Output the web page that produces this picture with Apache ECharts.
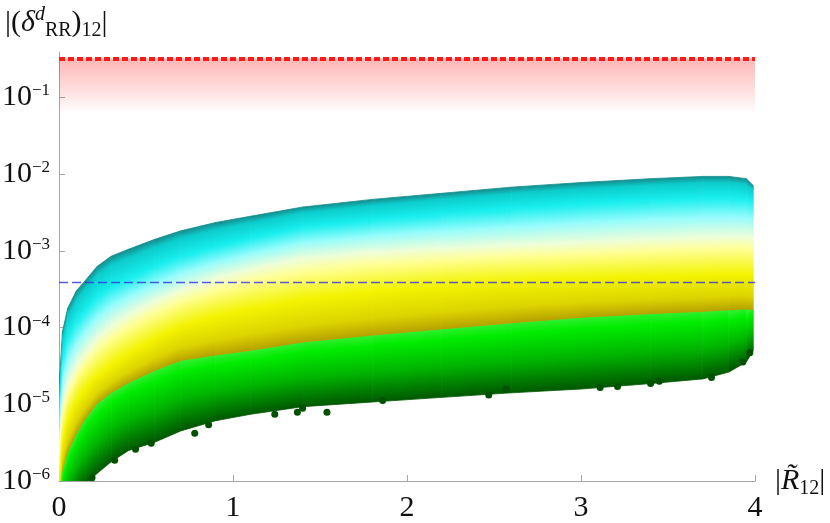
<!DOCTYPE html>
<html>
<head>
<meta charset="utf-8">
<script src="https://cdn.jsdelivr.net/npm/echarts@6/dist/echarts.min.js"></script>
<style>
  html, body { margin: 0; padding: 0; background: #fff; }
  #chart { width: 830px; height: 523px; }
</style>
</head>
<body>
<div id="chart"></div>
<script>
// |R12| sample positions along the cloud
const xs = [0, 0.005, 0.02, 0.05, 0.1, 0.15, 0.22, 0.3, 0.4, 0.55, 0.7, 0.9, 1.1, 1.4, 1.8, 2.2, 2.6, 3.0, 3.4, 3.7, 3.85, 3.95, 3.99];

// colour boundaries of the point cloud (top -> bottom)
const topEdge   = [5.0e-6, 2.5e-5, 8.9e-5, 1.78e-4, 3.02e-4, 4.07e-4, 6.3e-4, 8.5e-4, 1.05e-3, 1.41e-3, 1.82e-3, 2.34e-3, 2.82e-3, 3.72e-3, 4.68e-3, 5.62e-3, 6.76e-3, 7.76e-3, 8.71e-3, 9.33e-3, 9.33e-3, 8.71e-3, 7.08e-3];
const cyanLine  = [3.16e-6, 1.26e-5, 3.98e-5, 7.6e-5, 1.2e-4, 1.66e-4, 2.51e-4, 3.39e-4, 4.37e-4, 6.17e-4, 8.5e-4, 1.12e-3, 1.45e-3, 2.04e-3, 2.51e-3, 3.02e-3, 3.55e-3, 4.07e-3, 4.57e-3, 4.9e-3, 4.9e-3, 4.79e-3, 4.37e-3];
const paleLine  = [1.26e-6, 3.98e-6, 1.0e-5, 1.78e-5, 3.16e-5, 4.68e-5, 7.08e-5, 1.05e-4, 1.45e-4, 2.19e-4, 3.02e-4, 4.37e-4, 5.75e-4, 7.94e-4, 9.55e-4, 1.07e-3, 1.17e-3, 1.29e-3, 1.41e-3, 1.48e-3, 1.51e-3, 1.51e-3, 1.48e-3];
const yellowLine = [5.0e-7, 1.26e-6, 3.16e-6, 6.3e-6, 1.12e-5, 1.58e-5, 2.34e-5, 3.16e-5, 4.57e-5, 7.08e-5, 1.05e-4, 1.38e-4, 1.74e-4, 2.29e-4, 2.95e-4, 3.55e-4, 3.98e-4, 4.27e-4, 4.57e-4, 4.79e-4, 4.9e-4, 4.9e-4, 4.79e-4];
const greenTop  = [2.5e-7, 5.0e-7, 1.26e-6, 2.24e-6, 3.98e-6, 6.17e-6, 1.0e-5, 1.38e-5, 1.86e-5, 2.69e-5, 3.63e-5, 4.27e-5, 4.9e-5, 6.3e-5, 7.76e-5, 9.33e-5, 1.12e-4, 1.32e-4, 1.48e-4, 1.58e-4, 1.66e-4, 1.7e-4, 1.66e-4];
const bottomEdge = [1.58e-7, 2.0e-7, 2.5e-7, 3.98e-7, 6.3e-7, 8.9e-7, 1.26e-6, 1.78e-6, 2.5e-6, 3.2e-6, 4.5e-6, 6.1e-6, 7.4e-6, 9.3e-6, 1.07e-5, 1.23e-5, 1.41e-5, 1.58e-5, 1.86e-5, 2.14e-5, 2.63e-5, 3.55e-5, 5.0e-5];

// loose dark dots under the cloud
const strayDots = [[0.19, 1.1e-6], [0.32, 1.86e-6], [0.44, 2.6e-6], [0.53, 3.1e-6], [0.78, 4.2e-6], [0.86, 5.4e-6], [1.24, 7.4e-6], [1.37, 7.9e-6], [1.40, 8.9e-6], [1.54, 7.9e-6], [1.86, 1.12e-5], [2.47, 1.32e-5], [2.57, 1.58e-5], [3.11, 1.66e-5], [3.21, 1.7e-5], [3.40, 1.86e-5], [3.45, 2.0e-5], [3.75, 2.24e-5], [3.93, 3.55e-5], [3.97, 4.7e-5]];

// bounds
const redBound = 0.32;
const redFadeTo = 0.066;
const blueBound = 3.9e-4;
const yTicks = [1e-6, 1e-5, 1e-4, 1e-3, 1e-2, 1e-1];

const bands = [
  { upper: topEdge, lower: cyanLine, stops: [[0, '#168c8c'], [0.3, '#0ccccc'], [1, '#18eeee']] },
  { upper: cyanLine, lower: paleLine, stops: [[0, '#18eeee'], [0.5, '#98fcfc'], [1, '#eefed8']] },
  { upper: paleLine, lower: yellowLine, stops: [[0, '#eefed8'], [0.3, '#ffff98'], [1, '#f3f300']] },
  { upper: yellowLine, lower: greenTop, stops: [[0, '#f3f300'], [0.6, '#dcd400'], [1, '#b4a000']] },
  { upper: greenTop, lower: bottomEdge, stops: [[0, '#2af02a'], [0.15, '#00ec00'], [0.55, '#00b400'], [1, '#005800']] }
];

const segments = xs.slice(0, -1).map((x, i) => [x, topEdge[i], i]);

function renderCloud(params, api) {
  const i = api.value(2);
  const children = [];
  bands.forEach(b => {
    const a0 = api.coord([xs[i], b.upper[i]]);
    const a1 = api.coord([xs[i + 1], b.upper[i + 1]]);
    const c0 = api.coord([xs[i], b.lower[i]]);
    const c1 = api.coord([xs[i + 1], b.lower[i + 1]]);
    // gradient runs across the band, so colour lines follow its slope
    const dx = ((a1[0] - a0[0]) + (c1[0] - c0[0])) / 2;
    const dy = ((a1[1] - a0[1]) + (c1[1] - c0[1])) / 2;
    const len = Math.hypot(dx, dy) || 1;
    const nx = -dy / len, ny = dx / len;
    const mt = [(a0[0] + a1[0]) / 2, (a0[1] + a1[1]) / 2];
    const mb = [(c0[0] + c1[0]) / 2, (c0[1] + c1[1]) / 2];
    let d = (mb[0] - mt[0]) * nx + (mb[1] - mt[1]) * ny;
    if (Math.abs(d) < 1) d = 1;
    const grad = new echarts.graphic.LinearGradient(mt[0], mt[1], mt[0] + nx * d, mt[1] + ny * d,
      b.stops.map(s => ({ offset: s[0], color: s[1] })), true);
    children.push({
      type: 'polygon',
      shape: { points: [a0, a1, c1, c0] },
      style: { fill: grad, stroke: grad, lineWidth: 0.8 }
    });
  });
  return { type: 'group', children: children };
}

const serif = 'Liberation Serif';
const txt = { fontFamily: serif, color: '#111', fontWeight: 'normal' };

let myChart = echarts.init(document.getElementById('chart'));
myChart.setOption({
  animation: false,
  backgroundColor: '#fff',
  title: {
    text: '{a|\|(}{i|δ}{sup|d}{sub|RR}{a|)}{sub|12}{a|\|}',
    left: 0,
    top: 0,
    textStyle: {
      fontWeight: 'normal',
      fontFamily: serif,
      rich: {
        a: Object.assign({ fontSize: 30, lineHeight: 36 }, txt),
        i: Object.assign({ fontSize: 30, lineHeight: 36, fontStyle: 'italic' }, txt),
        sup: Object.assign({ fontSize: 20, lineHeight: 26, verticalAlign: 'top', fontStyle: 'italic' }, txt),
        sub: Object.assign({ fontSize: 20, lineHeight: 26, verticalAlign: 'bottom' }, txt)
      }
    }
  },
  grid: { left: 59, right: 75, top: 52, bottom: 42, containLabel: false, outerBoundsMode: 'none' },
  xAxis: {
    type: 'value',
    min: 0,
    max: 4,
    interval: 1,
    axisLine: { lineStyle: { color: '#a6a6a6', width: 1 } },
    axisTick: { inside: true, length: 6, lineStyle: { color: '#a6a6a6' } },
    splitLine: { show: false },
    axisLabel: Object.assign({ fontSize: 30, margin: 12 }, txt),
    name: '{a|\|}{i|R\u0303}{sub|12}{a|\|}',
    nameLocation: 'end',
    nameGap: 20,
    nameTextStyle: {
      rich: {
        a: Object.assign({ fontSize: 30, lineHeight: 36 }, txt),
        i: Object.assign({ fontSize: 30, lineHeight: 36, fontStyle: 'italic' }, txt),
        sub: Object.assign({ fontSize: 20, lineHeight: 26, verticalAlign: 'bottom' }, txt)
      }
    }
  },
  yAxis: {
    type: 'log',
    min: 1e-6,
    max: 0.39,
    axisLine: { show: true, lineStyle: { color: '#a6a6a6', width: 1 } },
    axisTick: { show: true, inside: true, length: 6, customValues: yTicks, lineStyle: { color: '#a6a6a6' } },
    splitLine: { show: false },
    minorTick: { show: false },
    axisLabel: {
      customValues: yTicks,
      margin: 9,
      formatter: function (v) {
        const e = Math.round(Math.log10(v));
        return '{b|10}{e|\u2212' + (-e) + '}';
      },
      rich: {
        b: Object.assign({ fontSize: 30, lineHeight: 30 }, txt),
        e: Object.assign({ fontSize: 17, lineHeight: 18, verticalAlign: 'top' }, txt)
      }
    }
  },
  series: [
    {
      name: 'cloud',
      type: 'custom',
      renderItem: renderCloud,
      clip: true,
      encode: { x: 0, y: 1 },
      data: segments,
      z: 2
    },
    {
      name: 'dots',
      type: 'scatter',
      data: strayDots,
      symbolSize: 7,
      itemStyle: { color: '#005200', opacity: 1 },
      z: 3
    },
    {
      name: 'redBand',
      type: 'line',
      data: [],
      z: 5,
      markArea: {
        silent: true,
        itemStyle: {
          color: new echarts.graphic.LinearGradient(0, 0, 0, 1, [
            { offset: 0, color: 'rgba(255,40,40,0.34)' },
            { offset: 1, color: 'rgba(255,40,40,0.02)' }
          ])
        },
        data: [[{ yAxis: redBound }, { yAxis: redFadeTo }]]
      },
      markLine: {
        silent: true,
        symbol: 'none',
        precision: 8,
        label: { show: false },
        lineStyle: { color: '#ff1a1a', width: 4, type: [6, 3] },
        data: [{ yAxis: redBound }]
      }
    },
    {
      name: 'blueBound',
      type: 'line',
      data: [],
      z: 6,
      markLine: {
        silent: true,
        symbol: 'none',
        precision: 8,
        label: { show: false },
        lineStyle: { color: 'rgba(50,50,230,0.8)', width: 1.3, type: [9, 4] },
        data: [{ yAxis: blueBound }]
      }
    }
  ]
});
</script>
</body>
</html>
